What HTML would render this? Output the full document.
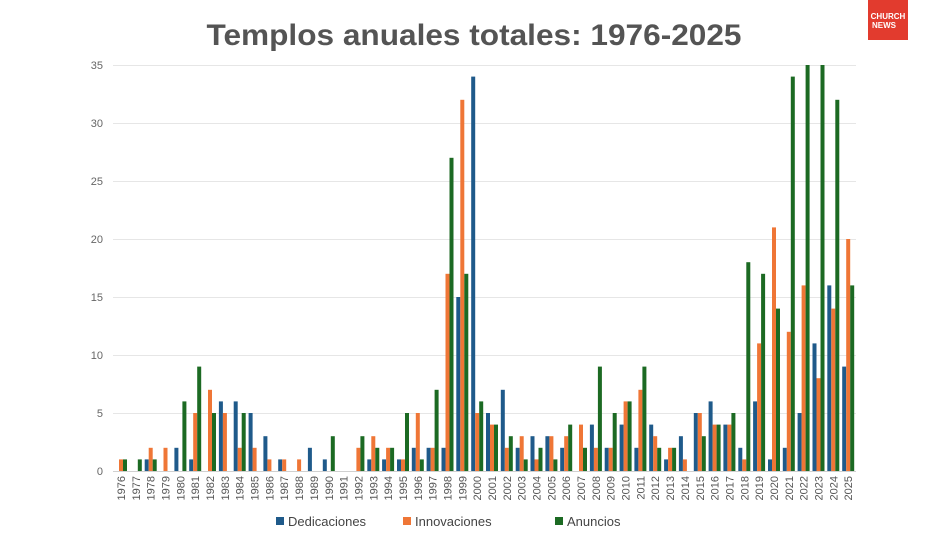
<!DOCTYPE html>
<html><head><meta charset="utf-8"><style>
html,body{margin:0;padding:0;background:#fff;}
svg{display:block;font-family:"Liberation Sans",sans-serif;}
</style></head><body>
<svg width="948" height="542" viewBox="0 0 948 542" xmlns="http://www.w3.org/2000/svg">
<rect width="948" height="542" fill="#fff"/>
<text x="474" y="45" text-anchor="middle" font-size="30" font-weight="bold" fill="#545454" textLength="535" lengthAdjust="spacingAndGlyphs">Templos anuales totales: 1976-2025</text>
<rect x="868" y="0" width="40" height="40" fill="#e23b2e"/>
<text x="888" y="19" text-anchor="middle" font-size="8" font-weight="bold" fill="#fff">CHURCH</text>
<text x="884" y="28" text-anchor="middle" font-size="8" font-weight="bold" fill="#fff">NEWS</text>
<g stroke="#e6e6e6" stroke-width="1">
<line x1="113" x2="856" y1="65.5" y2="65.5"/><line x1="113" x2="856" y1="123.5" y2="123.5"/><line x1="113" x2="856" y1="181.5" y2="181.5"/><line x1="113" x2="856" y1="239.5" y2="239.5"/><line x1="113" x2="856" y1="297.5" y2="297.5"/><line x1="113" x2="856" y1="355.5" y2="355.5"/><line x1="113" x2="856" y1="413.5" y2="413.5"/><line x1="113" x2="856" y1="471.5" y2="471.5" stroke="#d0d0d0"/>
</g>
<g font-size="11" fill="#666" text-anchor="end">
<text x="103" y="69">35</text><text x="103" y="127">30</text><text x="103" y="185">25</text><text x="103" y="243">20</text><text x="103" y="301">15</text><text x="103" y="359">10</text><text x="103" y="417">5</text><text x="103" y="475">0</text>
</g>
<defs>
<style>.d{fill:#1f5a8a}.i{fill:#ef7636}.a{fill:#1c6a23}</style>
</defs>
<g>
<g transform="translate(121,471) scale(1,-11.6)"><rect class="i" x="-2" width="4" height="1"/><rect class="a" x="2" width="4" height="1"/></g>
<g transform="translate(135.8,471) scale(1,-11.6)"><rect class="a" x="2" width="4" height="1"/></g>
<g transform="translate(150.7,471) scale(1,-11.6)"><rect class="d" x="-6" width="4" height="1"/><rect class="i" x="-2" width="4" height="2"/><rect class="a" x="2" width="4" height="1"/></g>
<g transform="translate(165.5,471) scale(1,-11.6)"><rect class="i" x="-2" width="4" height="2"/></g>
<g transform="translate(180.4,471) scale(1,-11.6)"><rect class="d" x="-6" width="4" height="2"/><rect class="a" x="2" width="4" height="6"/></g>
<g transform="translate(195.2,471) scale(1,-11.6)"><rect class="d" x="-6" width="4" height="1"/><rect class="i" x="-2" width="4" height="5"/><rect class="a" x="2" width="4" height="9"/></g>
<g transform="translate(210,471) scale(1,-11.6)"><rect class="i" x="-2" width="4" height="7"/><rect class="a" x="2" width="4" height="5"/></g>
<g transform="translate(224.9,471) scale(1,-11.6)"><rect class="d" x="-6" width="4" height="6"/><rect class="i" x="-2" width="4" height="5"/></g>
<g transform="translate(239.7,471) scale(1,-11.6)"><rect class="d" x="-6" width="4" height="6"/><rect class="i" x="-2" width="4" height="2"/><rect class="a" x="2" width="4" height="5"/></g>
<g transform="translate(254.6,471) scale(1,-11.6)"><rect class="d" x="-6" width="4" height="5"/><rect class="i" x="-2" width="4" height="2"/></g>
<g transform="translate(269.4,471) scale(1,-11.6)"><rect class="d" x="-6" width="4" height="3"/><rect class="i" x="-2" width="4" height="1"/></g>
<g transform="translate(284.2,471) scale(1,-11.6)"><rect class="d" x="-6" width="4" height="1"/><rect class="i" x="-2" width="4" height="1"/></g>
<g transform="translate(299.1,471) scale(1,-11.6)"><rect class="i" x="-2" width="4" height="1"/></g>
<g transform="translate(313.9,471) scale(1,-11.6)"><rect class="d" x="-6" width="4" height="2"/></g>
<g transform="translate(328.8,471) scale(1,-11.6)"><rect class="d" x="-6" width="4" height="1"/><rect class="a" x="2" width="4" height="3"/></g>
<g transform="translate(358.4,471) scale(1,-11.6)"><rect class="i" x="-2" width="4" height="2"/><rect class="a" x="2" width="4" height="3"/></g>
<g transform="translate(373.3,471) scale(1,-11.6)"><rect class="d" x="-6" width="4" height="1"/><rect class="i" x="-2" width="4" height="3"/><rect class="a" x="2" width="4" height="2"/></g>
<g transform="translate(388.1,471) scale(1,-11.6)"><rect class="d" x="-6" width="4" height="1"/><rect class="i" x="-2" width="4" height="2"/><rect class="a" x="2" width="4" height="2"/></g>
<g transform="translate(403,471) scale(1,-11.6)"><rect class="d" x="-6" width="4" height="1"/><rect class="i" x="-2" width="4" height="1"/><rect class="a" x="2" width="4" height="5"/></g>
<g transform="translate(417.8,471) scale(1,-11.6)"><rect class="d" x="-6" width="4" height="2"/><rect class="i" x="-2" width="4" height="5"/><rect class="a" x="2" width="4" height="1"/></g>
<g transform="translate(432.6,471) scale(1,-11.6)"><rect class="d" x="-6" width="4" height="2"/><rect class="i" x="-2" width="4" height="2"/><rect class="a" x="2" width="4" height="7"/></g>
<g transform="translate(447.5,471) scale(1,-11.6)"><rect class="d" x="-6" width="4" height="2"/><rect class="i" x="-2" width="4" height="17"/><rect class="a" x="2" width="4" height="27"/></g>
<g transform="translate(462.3,471) scale(1,-11.6)"><rect class="d" x="-6" width="4" height="15"/><rect class="i" x="-2" width="4" height="32"/><rect class="a" x="2" width="4" height="17"/></g>
<g transform="translate(477.2,471) scale(1,-11.6)"><rect class="d" x="-6" width="4" height="34"/><rect class="i" x="-2" width="4" height="5"/><rect class="a" x="2" width="4" height="6"/></g>
<g transform="translate(492,471) scale(1,-11.6)"><rect class="d" x="-6" width="4" height="5"/><rect class="i" x="-2" width="4" height="4"/><rect class="a" x="2" width="4" height="4"/></g>
<g transform="translate(506.8,471) scale(1,-11.6)"><rect class="d" x="-6" width="4" height="7"/><rect class="i" x="-2" width="4" height="2"/><rect class="a" x="2" width="4" height="3"/></g>
<g transform="translate(521.7,471) scale(1,-11.6)"><rect class="d" x="-6" width="4" height="2"/><rect class="i" x="-2" width="4" height="3"/><rect class="a" x="2" width="4" height="1"/></g>
<g transform="translate(536.5,471) scale(1,-11.6)"><rect class="d" x="-6" width="4" height="3"/><rect class="i" x="-2" width="4" height="1"/><rect class="a" x="2" width="4" height="2"/></g>
<g transform="translate(551.4,471) scale(1,-11.6)"><rect class="d" x="-6" width="4" height="3"/><rect class="i" x="-2" width="4" height="3"/><rect class="a" x="2" width="4" height="1"/></g>
<g transform="translate(566.2,471) scale(1,-11.6)"><rect class="d" x="-6" width="4" height="2"/><rect class="i" x="-2" width="4" height="3"/><rect class="a" x="2" width="4" height="4"/></g>
<g transform="translate(581,471) scale(1,-11.6)"><rect class="i" x="-2" width="4" height="4"/><rect class="a" x="2" width="4" height="2"/></g>
<g transform="translate(595.9,471) scale(1,-11.6)"><rect class="d" x="-6" width="4" height="4"/><rect class="i" x="-2" width="4" height="2"/><rect class="a" x="2" width="4" height="9"/></g>
<g transform="translate(610.7,471) scale(1,-11.6)"><rect class="d" x="-6" width="4" height="2"/><rect class="i" x="-2" width="4" height="2"/><rect class="a" x="2" width="4" height="5"/></g>
<g transform="translate(625.6,471) scale(1,-11.6)"><rect class="d" x="-6" width="4" height="4"/><rect class="i" x="-2" width="4" height="6"/><rect class="a" x="2" width="4" height="6"/></g>
<g transform="translate(640.4,471) scale(1,-11.6)"><rect class="d" x="-6" width="4" height="2"/><rect class="i" x="-2" width="4" height="7"/><rect class="a" x="2" width="4" height="9"/></g>
<g transform="translate(655.2,471) scale(1,-11.6)"><rect class="d" x="-6" width="4" height="4"/><rect class="i" x="-2" width="4" height="3"/><rect class="a" x="2" width="4" height="2"/></g>
<g transform="translate(670.1,471) scale(1,-11.6)"><rect class="d" x="-6" width="4" height="1"/><rect class="i" x="-2" width="4" height="2"/><rect class="a" x="2" width="4" height="2"/></g>
<g transform="translate(684.9,471) scale(1,-11.6)"><rect class="d" x="-6" width="4" height="3"/><rect class="i" x="-2" width="4" height="1"/></g>
<g transform="translate(699.8,471) scale(1,-11.6)"><rect class="d" x="-6" width="4" height="5"/><rect class="i" x="-2" width="4" height="5"/><rect class="a" x="2" width="4" height="3"/></g>
<g transform="translate(714.6,471) scale(1,-11.6)"><rect class="d" x="-6" width="4" height="6"/><rect class="i" x="-2" width="4" height="4"/><rect class="a" x="2" width="4" height="4"/></g>
<g transform="translate(729.4,471) scale(1,-11.6)"><rect class="d" x="-6" width="4" height="4"/><rect class="i" x="-2" width="4" height="4"/><rect class="a" x="2" width="4" height="5"/></g>
<g transform="translate(744.3,471) scale(1,-11.6)"><rect class="d" x="-6" width="4" height="2"/><rect class="i" x="-2" width="4" height="1"/><rect class="a" x="2" width="4" height="18"/></g>
<g transform="translate(759.1,471) scale(1,-11.6)"><rect class="d" x="-6" width="4" height="6"/><rect class="i" x="-2" width="4" height="11"/><rect class="a" x="2" width="4" height="17"/></g>
<g transform="translate(774,471) scale(1,-11.6)"><rect class="d" x="-6" width="4" height="1"/><rect class="i" x="-2" width="4" height="21"/><rect class="a" x="2" width="4" height="14"/></g>
<g transform="translate(788.8,471) scale(1,-11.6)"><rect class="d" x="-6" width="4" height="2"/><rect class="i" x="-2" width="4" height="12"/><rect class="a" x="2" width="4" height="34"/></g>
<g transform="translate(803.6,471) scale(1,-11.6)"><rect class="d" x="-6" width="4" height="5"/><rect class="i" x="-2" width="4" height="16"/><rect class="a" x="2" width="4" height="35"/></g>
<g transform="translate(818.5,471) scale(1,-11.6)"><rect class="d" x="-6" width="4" height="11"/><rect class="i" x="-2" width="4" height="8"/><rect class="a" x="2" width="4" height="35"/></g>
<g transform="translate(833.3,471) scale(1,-11.6)"><rect class="d" x="-6" width="4" height="16"/><rect class="i" x="-2" width="4" height="14"/><rect class="a" x="2" width="4" height="32"/></g>
<g transform="translate(848.2,471) scale(1,-11.6)"><rect class="d" x="-6" width="4" height="9"/><rect class="i" x="-2" width="4" height="20"/><rect class="a" x="2" width="4" height="16"/></g>
</g>
<g font-size="11" fill="#555" text-anchor="end">
<text transform="translate(125,476) rotate(-90)">1976</text>
<text transform="translate(139.8,476) rotate(-90)">1977</text>
<text transform="translate(154.7,476) rotate(-90)">1978</text>
<text transform="translate(169.5,476) rotate(-90)">1979</text>
<text transform="translate(184.4,476) rotate(-90)">1980</text>
<text transform="translate(199.2,476) rotate(-90)">1981</text>
<text transform="translate(214,476) rotate(-90)">1982</text>
<text transform="translate(228.9,476) rotate(-90)">1983</text>
<text transform="translate(243.7,476) rotate(-90)">1984</text>
<text transform="translate(258.6,476) rotate(-90)">1985</text>
<text transform="translate(273.4,476) rotate(-90)">1986</text>
<text transform="translate(288.2,476) rotate(-90)">1987</text>
<text transform="translate(303.1,476) rotate(-90)">1988</text>
<text transform="translate(317.9,476) rotate(-90)">1989</text>
<text transform="translate(332.8,476) rotate(-90)">1990</text>
<text transform="translate(347.6,476) rotate(-90)">1991</text>
<text transform="translate(362.4,476) rotate(-90)">1992</text>
<text transform="translate(377.3,476) rotate(-90)">1993</text>
<text transform="translate(392.1,476) rotate(-90)">1994</text>
<text transform="translate(407,476) rotate(-90)">1995</text>
<text transform="translate(421.8,476) rotate(-90)">1996</text>
<text transform="translate(436.6,476) rotate(-90)">1997</text>
<text transform="translate(451.5,476) rotate(-90)">1998</text>
<text transform="translate(466.3,476) rotate(-90)">1999</text>
<text transform="translate(481.2,476) rotate(-90)">2000</text>
<text transform="translate(496,476) rotate(-90)">2001</text>
<text transform="translate(510.8,476) rotate(-90)">2002</text>
<text transform="translate(525.7,476) rotate(-90)">2003</text>
<text transform="translate(540.5,476) rotate(-90)">2004</text>
<text transform="translate(555.4,476) rotate(-90)">2005</text>
<text transform="translate(570.2,476) rotate(-90)">2006</text>
<text transform="translate(585,476) rotate(-90)">2007</text>
<text transform="translate(599.9,476) rotate(-90)">2008</text>
<text transform="translate(614.7,476) rotate(-90)">2009</text>
<text transform="translate(629.6,476) rotate(-90)">2010</text>
<text transform="translate(644.4,476) rotate(-90)">2011</text>
<text transform="translate(659.2,476) rotate(-90)">2012</text>
<text transform="translate(674.1,476) rotate(-90)">2013</text>
<text transform="translate(688.9,476) rotate(-90)">2014</text>
<text transform="translate(703.8,476) rotate(-90)">2015</text>
<text transform="translate(718.6,476) rotate(-90)">2016</text>
<text transform="translate(733.4,476) rotate(-90)">2017</text>
<text transform="translate(748.3,476) rotate(-90)">2018</text>
<text transform="translate(763.1,476) rotate(-90)">2019</text>
<text transform="translate(778,476) rotate(-90)">2020</text>
<text transform="translate(792.8,476) rotate(-90)">2021</text>
<text transform="translate(807.6,476) rotate(-90)">2022</text>
<text transform="translate(822.5,476) rotate(-90)">2023</text>
<text transform="translate(837.3,476) rotate(-90)">2024</text>
<text transform="translate(852.2,476) rotate(-90)">2025</text>
</g>
<g font-size="13" fill="#444">
<rect x="276" y="517" width="8" height="8" class="d"/><text x="288" y="526">Dedicaciones</text>
<rect x="403" y="517" width="8" height="8" class="i"/><text x="415" y="526">Innovaciones</text>
<rect x="555" y="517" width="8" height="8" class="a"/><text x="567" y="526">Anuncios</text>
</g>
</svg>
</body></html>
